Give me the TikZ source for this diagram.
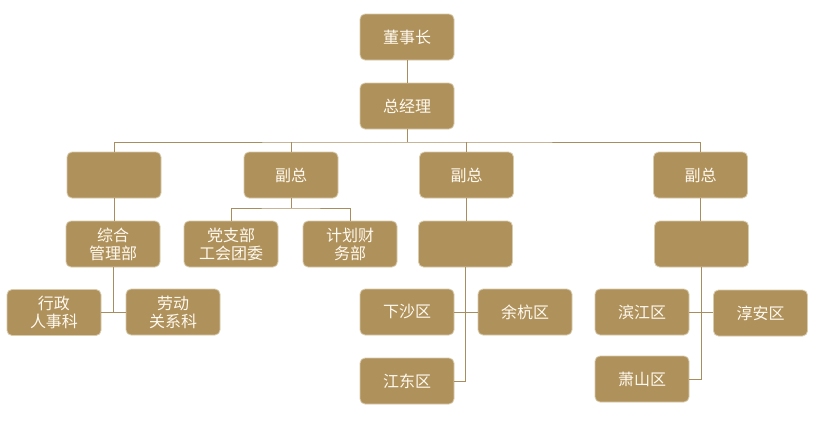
\documentclass[tikz,border=0pt]{standalone}
\usepackage{fontspec}
\newfontfamily\cjk{Noto Sans CJK SC}
\definecolor{boxfill}{HTML}{AF915B}
\definecolor{boxedge}{HTML}{D9CBAE}
\definecolor{linecol}{HTML}{A88E5E}
\definecolor{txtcol}{HTML}{FFF9F0}
\begin{document}
\begin{tikzpicture}[x=1pt,y=-1pt,
  box/.style={draw=boxedge,line width=0.8pt,fill=boxfill,rounded corners=5pt,
    minimum width=94pt,minimum height=46pt,inner sep=0pt,align=center,
    text=txtcol,font=\cjk\fontsize{16}{18}\selectfont},
  conn/.style={draw=linecol,line width=1pt}]
\useasboundingbox[fill=white] (0,0) rectangle (814,426);
% nodes
\node[box] (dsz) at (407,37) {董事长};
\node[box] (zjl) at (407,106) {总经理};
\node[box] (v1) at (114,175) {};
\node[box] (v2) at (291,175) {副总};
\node[box] (v3) at (466.5,175) {副总};
\node[box] (v4) at (700.5,175) {副总};
\node[box] (zh) at (113,244) {综合\\管理部};
\node[box] (dz) at (231,244) {党支部\\工会团委};
\node[box] (jh) at (350,244) {计划财\\务部};
\node[box] (e3) at (465.5,244) {};
\node[box] (e4) at (701.5,244) {};
\node[box] (xz) at (54,312.5) {行政\\人事科};
\node[box] (ld) at (173,312) {劳动\\关系科};
\node[box] (xsq) at (407,312) {下沙区};
\node[box] (yh) at (525,312) {余杭区};
\node[box] (jd) at (407,381) {江东区};
\node[box] (bj) at (642,312) {滨江区};
\node[box] (ca) at (760.5,313) {淳安区};
\node[box] (xsh) at (642,379) {萧山区};
% connectors
\coordinate (bus) at (407,142);
\coordinate (b2) at (291,208);
\draw[conn] (dsz.south) -- (zjl.north);
\draw[conn] (zjl.south) -- (bus);
\draw[conn] (v1.north) |- (bus) -| (v4.north);
\draw[conn] (v2.north) -- (v2.north |- bus);
\draw[conn] (v3.north) -- (v3.north |- bus);
\draw[conn] (v1.south) -- (v1.south |- zh.north);
\draw[conn] (v2.south) -- (b2);
\draw[conn] (dz.north) |- (b2) -| (jh.north);
\draw[conn] (v3.south) -- (v3.south |- e3.north);
\draw[conn] (v4.south) -- (v4.south |- e4.north);
\draw[conn] (zh.south) -- (zh.south |- xz.east);
\draw[conn] (xz.east) -- (xz.east -| ld.west);
\draw[conn] (e3.south) |- (jd.east);
\draw[conn] (xsq.east) -- (xsq.east -| yh.west);
\draw[conn] (e4.south) |- (xsh.east);
\draw[conn] (bj.east) -- (bj.east -| ca.west);
\end{tikzpicture}
\end{document}
